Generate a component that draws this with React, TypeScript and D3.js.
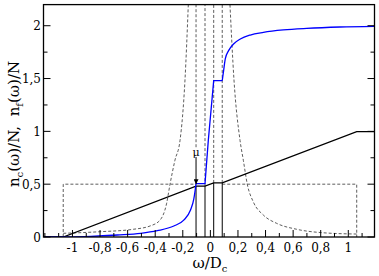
import React from 'react';
import * as d3 from 'd3';

// integrated conduction count n_c(w)/N (solid black)
const ncPoints: [number, number][] = [
  [-1.21, 0], [-1.067, 0], [-0.104, 0.482], [-0.039, 0.482],
  [0.024, 0.512], [0.086, 0.512], [1.061, 0.998], [1.19, 0.998],
];

// integrated f count n_f(w)/N (blue), split at the gap corners
const nfLow: [number, number][] = [
  [-1.21, 0], [-1.067, 0], [-0.915, 0.003], [-0.674, 0.019], [-0.505, 0.035],
  [-0.385, 0.06], [-0.265, 0.104], [-0.193, 0.16], [-0.144, 0.255],
  [-0.12, 0.36], [-0.104, 0.505],
];
const nfGap: [number, number][] = [
  [-0.104, 0.505], [-0.039, 0.505], [-0.015, 0.915], [0.024, 1.48], [0.086, 1.48],
];
const nfHigh: [number, number][] = [
  [0.086, 1.48], [0.096, 1.575], [0.108, 1.686], [0.132, 1.764], [0.168, 1.827],
  [0.217, 1.874], [0.289, 1.912], [0.385, 1.937], [0.529, 1.96], [0.698, 1.975],
  [0.939, 1.988], [1.19, 1.994],
];

// densities of states (dashed)
const dosLeft: [number, number][] = [
  [-1.067, 0.035], [-0.801, 0.05], [-0.559, 0.073], [-0.438, 0.104], [-0.365, 0.16],
  [-0.317, 0.32], [-0.293, 0.497], [-0.257, 0.726], [-0.22, 0.915], [-0.184, 1.49],
  [-0.16, 2.2],
];
const dosRight: [number, number][] = [
  [0.142, 2.2], [0.171, 1.49], [0.215, 0.915], [0.239, 0.726], [0.268, 0.497],
  [0.311, 0.333], [0.384, 0.208], [0.481, 0.129], [0.626, 0.073], [0.819, 0.04],
  [1.061, 0.028],
];
const bandLeft: [number, number][] = [[-1.067, 0], [-1.067, 0.5], [-0.104, 0.5]];
const bandRight: [number, number][] = [[0.086, 0.5], [1.061, 0.5], [1.061, 0]];
const gapEdges = [-0.104, -0.039, 0.024, 0.086];
const gapLevels = [0.482, 0.482, 0.512, 0.512];

const xTicks = [-1, -0.8, -0.6, -0.4, -0.2, 0, 0.2, 0.4, 0.6, 0.8, 1];
const xMinor = d3.range(-12, 12).map(i => i / 10);
const yTicks = [0, 0.5, 1, 1.5, 2];
const yMinor = [0.25, 0.75, 1.25, 1.75];
const mu = { w: -0.104, label: 0.8, from: 0.757, to: 0.5 };

const W = 379, H = 276;
const L = 43.5, R = 374.5, T = 4.6, B = 237;

const fmt = (v: number) => String(+v.toFixed(1)).replace('.', ',');

export default function App() {
  const x = d3.scaleLinear().domain([-1.21, 1.19]).range([L, R]);
  const y = d3.scaleLinear().domain([0, 2.2]).range([B, T]);
  const line = d3.line<[number, number]>().x(d => x(d[0])).y(d => y(d[1]));
  const smooth = d3.line<[number, number]>().x(d => x(d[0])).y(d => y(d[1])).curve(d3.curveMonotoneX);
  const dash = '3,2';

  return (
    <svg width={W} height={H}
      style={{ position: 'absolute', left: 0, top: 0, background: '#fff', fontFamily: "'DejaVu Serif', 'Liberation Serif', serif" }}>
      <defs>
        <clipPath id="plot"><rect x={L} y={T} width={R - L} height={B - T} /></clipPath>
        <marker id="arr" viewBox="0 0 10 10" refX="10" refY="5" markerWidth="5" markerHeight="5" orient="auto">
          <path d="M0,0 L10,5 L0,10 z" fill="#000" />
        </marker>
      </defs>

      <g clipPath="url(#plot)">
        {/* dashed DOS */}
        <path d={smooth(dosLeft) || ''} fill="none" stroke="#333" strokeWidth={0.8} strokeDasharray={dash} />
        <path d={smooth(dosRight) || ''} fill="none" stroke="#333" strokeWidth={0.8} strokeDasharray={dash} />
        <path d={line(bandLeft) || ''} fill="none" stroke="#333" strokeWidth={0.8} strokeDasharray={dash} />
        <path d={line(bandRight) || ''} fill="none" stroke="#333" strokeWidth={0.8} strokeDasharray={dash} />
        {gapEdges.map((g, i) => (
          <g key={i}>
            <line x1={x(g)} x2={x(g)} y1={i === 0 ? y(0.85) : y(gapLevels[i])} y2={T} stroke="#333" strokeWidth={0.8} strokeDasharray={dash} />
            <line x1={x(g)} x2={x(g)} y1={y(0)} y2={y(gapLevels[i])} stroke="#000" strokeWidth={1} />
          </g>
        ))}

        <path d={line(ncPoints) || ''} fill="none" stroke="#000" strokeWidth={1.3} />
        <path d={smooth(nfLow) || ''} fill="none" stroke="#0000ff" strokeWidth={1.3} />
        <path d={line(nfGap) || ''} fill="none" stroke="#0000ff" strokeWidth={1.3} />
        <path d={smooth(nfHigh) || ''} fill="none" stroke="#0000ff" strokeWidth={1.3} />
      </g>

      {/* mu arrow */}
      <text x={x(mu.w)} y={y(mu.label)} fontSize={11} textAnchor="middle" dominantBaseline="central">μ</text>
      <line x1={x(mu.w)} x2={x(mu.w)} y1={y(mu.from)} y2={y(mu.to)} stroke="#000" strokeWidth={1} markerEnd="url(#arr)" />

      {/* ticks */}
      {xMinor.map((v, i) => {
        const major = xTicks.some(t => Math.abs(t - v) < 1e-6);
        return <line key={'xm' + i} x1={x(v)} x2={x(v)} y1={B} y2={B - (major ? 7 : 4)} stroke="#000" strokeWidth={1} />;
      })}
      {yTicks.concat(yMinor).map((v, i) => {
        const len = yTicks.includes(v) ? 7 : 4;
        return (
          <g key={'yt' + i}>
            <line x1={L} x2={L + len} y1={y(v)} y2={y(v)} stroke="#000" strokeWidth={1} />
            <line x1={R} x2={R - len} y1={y(v)} y2={y(v)} stroke="#000" strokeWidth={1} />
          </g>
        );
      })}
      <rect x={L} y={T} width={R - L} height={B - T} fill="none" stroke="#000" strokeWidth={1.3} />

      {xTicks.map((v, i) => (
        <text key={'xl' + i} x={x(v)} y={B + 15} fontSize={12} textAnchor="middle">{v < 0 ? '-' + fmt(-v) : fmt(v)}</text>
      ))}
      {yTicks.map((v, i) => (
        <text key={'yl' + i} x={41} y={y(v) + 4.5} fontSize={12} textAnchor="end">{fmt(v)}</text>
      ))}

      <text x={210} y={268} fontSize={15} textAnchor="middle">
        ω/D<tspan fontSize={10} dy={4}>c</tspan>
      </text>
      <text transform="translate(18.5,124) rotate(-90)" fontSize={15} textAnchor="middle">
        n<tspan fontSize={10} dy={4}>c</tspan><tspan dy={-4}>{'(ω)/N,\u00a0\u00a0n'}</tspan><tspan fontSize={10} dy={4}>f</tspan><tspan dy={-4}>(ω)/N</tspan>
      </text>
    </svg>
  );
}
